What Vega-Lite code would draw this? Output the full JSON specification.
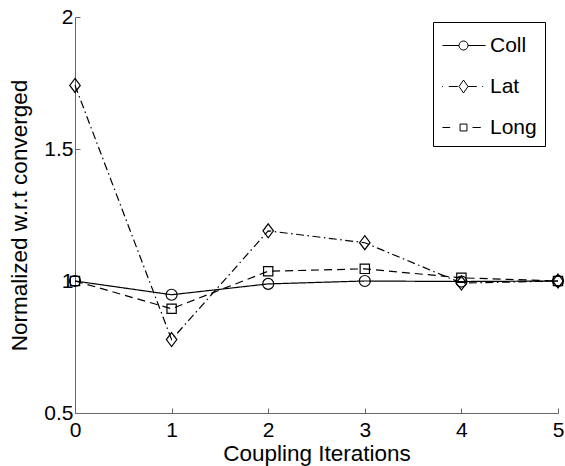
{
  "$schema": "https://vega.github.io/schema/vega-lite/v6.json",
  "width": 483,
  "height": 396,
  "autosize": {"type": "none"},
  "padding": {"left": 75, "top": 17, "right": 7, "bottom": 53},
  "background": "white",
  "config": {
    "view": {"stroke": null},
    "font": "Liberation Sans",
    "axis": {
      "grid": false,
      "domainColor": "#666666",
      "domainWidth": 1,
      "tickColor": "#666666",
      "tickSize": -5,
      "labelFontSize": 21,
      "labelColor": "black",
      "labelFont": "Liberation Sans",
      "titleFontSize": 22.5,
      "titleFontWeight": "normal",
      "titleColor": "black",
      "titleFont": "Liberation Sans",
      "labelFlush": false,
      "labelOverlap": false
    }
  },
  "data": {
    "values": [
      {"iter": 0, "series": "Coll", "value": 1.0},
      {"iter": 1, "series": "Coll", "value": 0.948},
      {"iter": 2, "series": "Coll", "value": 0.989},
      {"iter": 3, "series": "Coll", "value": 1.0},
      {"iter": 4, "series": "Coll", "value": 0.998},
      {"iter": 5, "series": "Coll", "value": 1.0},
      {"iter": 0, "series": "Lat", "value": 1.741},
      {"iter": 1, "series": "Lat", "value": 0.778},
      {"iter": 2, "series": "Lat", "value": 1.19},
      {"iter": 3, "series": "Lat", "value": 1.145},
      {"iter": 4, "series": "Lat", "value": 0.992},
      {"iter": 5, "series": "Lat", "value": 1.0},
      {"iter": 0, "series": "Long", "value": 1.0},
      {"iter": 1, "series": "Long", "value": 0.895},
      {"iter": 2, "series": "Long", "value": 1.037},
      {"iter": 3, "series": "Long", "value": 1.046},
      {"iter": 4, "series": "Long", "value": 1.012},
      {"iter": 5, "series": "Long", "value": 1.0}
    ]
  },
  "encoding": {
    "x": {
      "field": "iter",
      "type": "quantitative",
      "scale": {"domain": [0, 5], "nice": false, "zero": false},
      "axis": {"values": [0, 1, 2, 3, 4, 5], "labelPadding": 11, "title": "Coupling Iterations", "titlePadding": 2}
    },
    "y": {
      "field": "value",
      "type": "quantitative",
      "scale": {"domain": [0.5, 2], "nice": false, "zero": false},
      "axis": {"values": [0.5, 1, 1.5, 2], "labelExpr": "'' + datum.value", "labelPadding": 7, "title": "Normalized w.r.t converged", "titlePadding": 12}
    }
  },
  "layer": [
    {
      "mark": {"type": "line", "color": "black", "strokeWidth": 1.2},
      "encoding": {
        "strokeDash": {
          "field": "series",
          "type": "nominal",
          "scale": {"domain": ["Coll", "Lat", "Long"], "range": [[1, 0], [8, 3.5, 1.5, 3.5], [8, 5]]},
          "legend": null
        }
      }
    },
    {
      "mark": {"type": "point", "filled": false, "color": "black", "strokeWidth": 1.2, "size": 100, "opacity": 1},
      "encoding": {
        "shape": {
          "field": "series",
          "type": "nominal",
          "scale": {
            "domain": ["Coll", "Lat", "Long"],
            "range": [
              "M-1.1,0A1.1,1.1 0 1,0 1.1,0A1.1,1.1 0 1,0 -1.1,0Z",
              "M0,-1.4L1.05,0L0,1.4L-1.05,0Z",
              "M-0.93,-0.93H0.93V0.93H-0.93Z"
            ]
          },
          "legend": null
        }
      }
    },
    {
      "mark": {"type": "point", "filled": false, "color": "black", "opacity": 0, "size": 900},
      "encoding": {
        "shape": {
          "field": "series",
          "type": "nominal",
          "scale": {
            "domain": ["Coll", "Lat", "Long"],
            "range": [
              "M-1.4,0H-0.3M0.3,0H1.47M-0.3,0A0.3,0.3 0 1,0 0.3,0A0.3,0.3 0 1,0 -0.3,0Z",
              "M-1.42,0H-1.36M-0.98,0H-0.38M0.29,0H0.89M1.25,0H1.31M0,-0.43L0.3,0L0,0.43L-0.3,0Z",
              "M-1.4,0H-0.89M0.6,0H1.15M-0.23,-0.23H0.23V0.23H-0.23Z"
            ]
          },
          "legend": {
            "title": null,
            "orient": "none",
            "legendX": 358,
            "legendY": 5,
            "strokeColor": "black",
            "fillColor": "white",
            "padding": 8,
            "symbolSize": 900,
            "symbolStrokeColor": "black",
            "symbolStrokeWidth": 1,
            "symbolFillColor": "transparent",
            "symbolOpacity": 1,
            "symbolOffset": 7,
            "labelOffset": 11,
            "labelFontSize": 21,
            "labelFont": "Liberation Sans",
            "labelColor": "black",
            "rowPadding": 15
          }
        }
      }
    }
  ],
  "resolve": {"scale": {"shape": "independent"}}
}
